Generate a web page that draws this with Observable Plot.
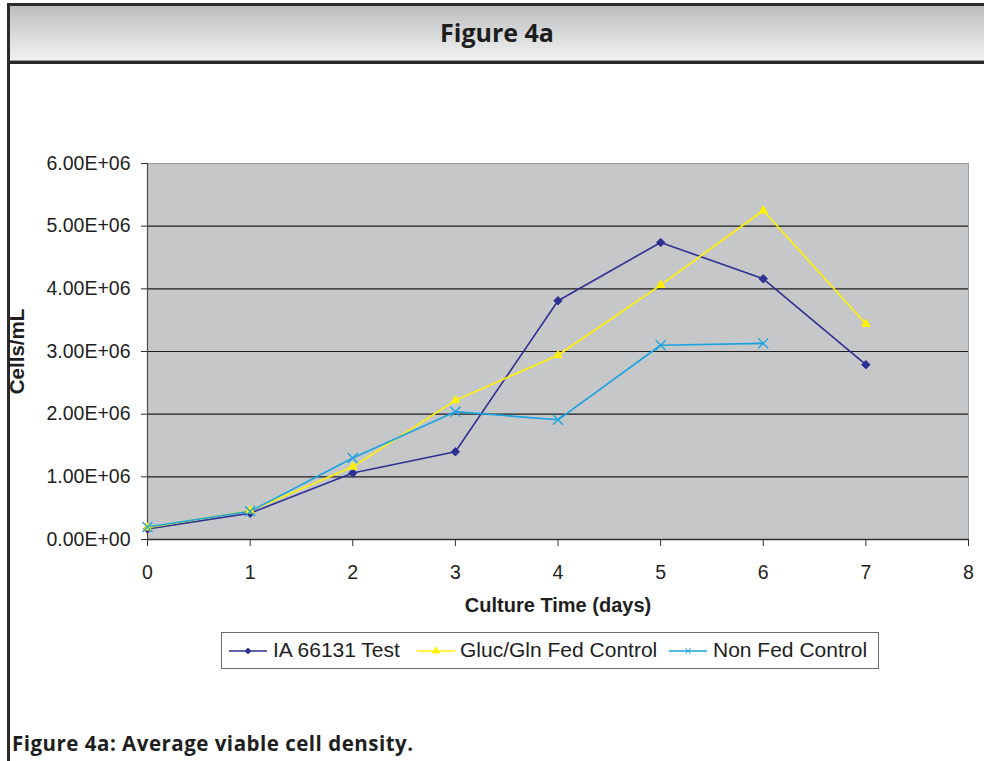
<!DOCTYPE html>
<html>
<head>
<meta charset="utf-8">
<script src="https://cdn.jsdelivr.net/npm/d3@7"></script>
<script src="https://cdn.jsdelivr.net/npm/@observablehq/plot@0.6"></script>
<style>
  html, body { margin: 0; padding: 0; background: #fff; }
  #page { position: relative; width: 984px; height: 761px; overflow: hidden; background: #fff; }
  .rule { position: absolute; background: #2a2a2a; }
  #header {
    position: absolute; left: 10px; top: 6px; right: 0; height: 54px;
    background: linear-gradient(to bottom, #bcbdbf 0%, #d7d8d9 50%, #f1f1f1 100%);
    border-bottom: 1px solid #9a9a9a;
  }
  #title {
    position: absolute; left: 10px; right: 0; top: 20px; text-align: center;
    font-family: "Open Sans", Lato, sans-serif; font-weight: 700; font-size: 25px; color: #1e1e1e;
    line-height: 1;
  }
  #chart { position: absolute; left: 0; top: 100px; }
  #legend {
    position: absolute; left: 221px; top: 632px; width: 656px; height: 35px;
    border: 1px solid #6b6b6b; background: #fff;
    font-family: "Liberation Sans", Arial, sans-serif; font-size: 21px; color: #1e1e1e;
  }
  #legend .sw { position: absolute; top: 9px; }
  #legend .lb { position: absolute; top: 5px; line-height: 24px; white-space: nowrap; }
  #caption {
    position: absolute; left: 12px; top: 731px;
    font-family: "Open Sans", Lato, sans-serif; font-weight: 700; font-size: 20.5px; color: #1e1e1e;
    letter-spacing: 0.5px; white-space: nowrap; line-height: 1.2;
  }
</style>
</head>
<body>
<div id="page">
  <div id="header"></div>
  <div class="rule" style="left:7px; top:3px; right:0; height:3px;"></div>
  <div class="rule" style="left:7px; top:61px; right:0; height:2.5px;"></div>
  <div class="rule" style="left:7px; top:3px; width:3px; height:760px;"></div>
  <div id="title">Figure 4a</div>
  <div id="chart"></div>
  <div id="legend"></div>
  <div id="caption">Figure 4a: Average viable cell density.</div>
</div>
<script>
// Culture day for each sample
const days = [0, 1, 2, 3, 4, 5, 6, 7];

// Average viable cell density (cells/mL) per culture day
const testCells   = [1.7e5, 4.2e5, 1.06e6, 1.40e6, 3.81e6, 4.74e6, 4.16e6, 2.79e6];
const fedCells    = [1.9e5, 4.6e5, 1.16e6, 2.22e6, 2.94e6, 4.06e6, 5.25e6, 3.44e6];
const nonFedCells = [2.0e5, 4.5e5, 1.30e6, 2.04e6, 1.91e6, 3.10e6, 3.13e6];

// Series names in legend order
const seriesNames = ["IA 66131 Test", "Gluc/Gln Fed Control", "Non Fed Control"];

// Axis ticks
const xTicks = [0, 1, 2, 3, 4, 5, 6, 7, 8];
const yTicks = [0, 1e6, 2e6, 3e6, 4e6, 5e6, 6e6];

// Drawing style per series
const seriesStyle = [
  {color: "#2e3192", symbol: "diamond2", r: 3.8, sw: 1},
  {color: "#fff200", symbol: "triangle", r: 3.1, sw: 1},
  {color: "#1aa3e0", symbol: "times",    r: 4.6, sw: 1.3}
];

const seriesValues = [testCells, fedCells, nonFedCells];
const rows = seriesNames.map((name, s) =>
  seriesValues[s].map((v, i) => ({series: name, day: days[i], cells: v}))
);

// Spreadsheet-style scientific notation: 6.00E+06
function sci(v) {
  const [m, e] = v.toExponential(2).split("e");
  const n = +e;
  return m.toUpperCase() + "E" + (n < 0 ? "-" : "+") + String(Math.abs(n)).padStart(2, "0");
}

const marks = [
  Plot.frame({fill: "#c6c7c9", stroke: "#9c9c9c", strokeWidth: 1}),
  Plot.gridY(yTicks.filter(t => t > 0 && t < 6e6), {stroke: "#1c1c1c", strokeOpacity: 1, strokeWidth: 1.2}),
  Plot.ruleY([0], {stroke: "#2e2e2e", strokeWidth: 1.6}),
  Plot.ruleX([0], {stroke: "#4a4a4a", strokeWidth: 1.2}),
  Plot.axisY({ticks: yTicks, tickSize: 6, tickPadding: 11, tickFormat: sci, fontSize: 19.5, fill: "#1e1e1e", stroke: "#2e2e2e", label: null}),
  Plot.axisX({ticks: xTicks, tickSize: 7, tickPadding: 19, tickFormat: d => String(d), fontSize: 19.5, fill: "#1e1e1e", stroke: "#2e2e2e", label: null}),
  Plot.text(["Cells/mL"], {frameAnchor: "left", dx: -130, rotate: -90, textAnchor: "middle", fontWeight: "bold", fontSize: 20.5, fill: "#1e1e1e"}),
  Plot.text(["Culture Time (days)"], {frameAnchor: "bottom", dy: 72, textAnchor: "middle", fontWeight: "bold", fontSize: 20, fill: "#1e1e1e"})
];

rows.forEach((data, s) => {
  const st = seriesStyle[s];
  marks.push(Plot.line(data, {x: "day", y: "cells", stroke: st.color, strokeWidth: 1.6}));
});
rows.forEach((data, s) => {
  const st = seriesStyle[s];
  marks.push(Plot.dot(data, {x: "day", y: "cells", symbol: () => st.symbol, r: st.r,
    fill: st.symbol === "times" ? "none" : st.color, stroke: st.color, strokeWidth: st.sw}));
});

const chart = Plot.plot({
  width: 984,
  height: 530,
  marginLeft: 147,
  marginRight: 16,
  marginTop: 63,
  marginBottom: 91,
  x: {domain: [0, 8]},
  y: {domain: [0, 6e6]},
  symbol: {type: "identity"},
  style: {fontFamily: "'Liberation Sans', Arial, sans-serif", background: "transparent", overflow: "visible"},
  marks
});
document.getElementById("chart").appendChild(chart);

// Legend: line sample with marker, then series name
const legend = d3.select("#legend");
const swatchX = [7, 195, 447];
const labelX = [51, 238, 491];
seriesNames.forEach((name, s) => {
  const st = seriesStyle[s];
  const svg = legend.append("svg").attr("class", "sw")
    .style("left", swatchX[s] + "px").attr("width", 38).attr("height", 18);
  svg.append("line").attr("x1", 0).attr("x2", 38).attr("y1", 9).attr("y2", 9)
    .attr("stroke", st.color).attr("stroke-width", 1.6);
  const sym = {diamond2: d3.symbolDiamond2, triangle: d3.symbolTriangle, times: d3.symbolTimes}[st.symbol];
  svg.append("path").attr("transform", "translate(19,9)")
    .attr("d", d3.symbol(sym, Math.PI * 2.6 * 2.6)())
    .attr("fill", st.symbol === "times" ? "none" : st.color)
    .attr("stroke", st.color).attr("stroke-width", 1);
  legend.append("div").attr("class", "lb").style("left", labelX[s] + "px").text(name);
});
</script>
</body>
</html>
